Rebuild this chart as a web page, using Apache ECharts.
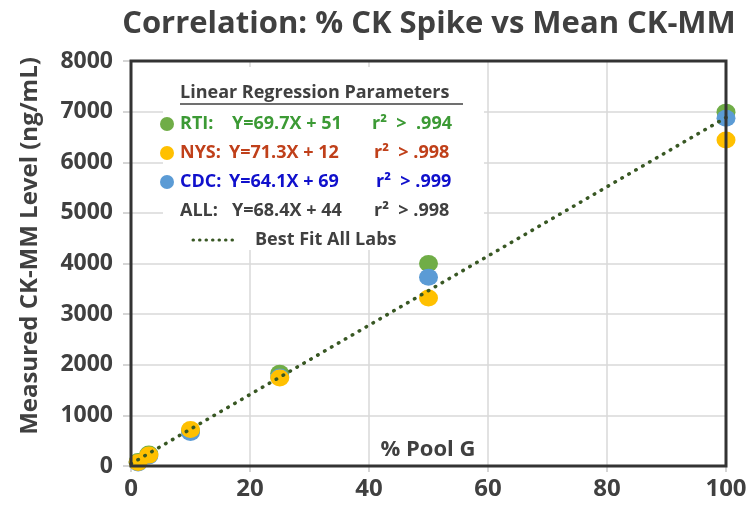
<!DOCTYPE html>
<html>
<head>
<meta charset="utf-8">
<script src="https://cdn.jsdelivr.net/npm/echarts@6/dist/echarts.min.js"></script>
<style>
html,body{margin:0;padding:0;background:#fff;}
#c{width:747px;height:509px;}
</style>
</head>
<body>
<div id="c"></div>
<script>
// ---- data ----
const xTicks = [0, 20, 40, 60, 80, 100];
const yTicks = [0, 1000, 2000, 3000, 4000, 5000, 6000, 7000, 8000];
const rtiData = [[1.2, 90], [3, 235], [10, 700], [25, 1830], [50, 4000], [100, 6990]];
const cdcData = [[1.2, 60], [3, 200], [10, 660], [25, 1760], [50, 3730], [100, 6870]];
const nysData = [[1.2, 70], [3, 215], [10, 720], [25, 1740], [50, 3320], [100, 6440]];
const fitSlope = 68.4;
const fitIntercept = 44;
const fitX = [0, 100];
const fitData = fitX.map(x => [x, fitSlope * x + fitIntercept]);

const FONT = '"Open Sans"';
const chart = echarts.init(document.getElementById('c'), null, {renderer: 'canvas'});

const rowText = (x, y, text, color) => ({
  type: 'text', x: x, y: y, z: 50,
  style: {text: text, fill: color, font: 'bold 18px ' + FONT, textVerticalAlign: 'middle', verticalAlign: 'middle'}
});
const dot = (x, y, color) => ({type: 'circle', z: 50, shape: {cx: x, cy: y, r: 7}, style: {fill: color}});

const option = {
  animation: false,
  backgroundColor: '#fff',
  title: {
    text: 'Correlation: % CK Spike vs Mean CK-MM',
    left: 424, top: 4, textAlign: 'center',
    textStyle: {fontFamily: 'Open Sans', fontWeight: 'bold', fontSize: 31, color: '#404040'}
  },
  grid: {left: 131, right: 21, top: 61, bottom: 43, show: false,
    containLabel: false, outerBoundsMode: 'none'},
  xAxis: {
    type: 'value', min: 0, max: 100, interval: 20,
    axisLine: {show: false},
    axisTick: {show: true, length: 6, lineStyle: {color: '#c8c8c8', width: 1.5}},
    axisLabel: {margin: 11, fontFamily: 'Open Sans', fontWeight: 'bold', fontSize: 24, color: '#404040',
      formatter: v => String(v)},
    splitLine: {show: true, showMinLine: false, showMaxLine: false, lineStyle: {color: '#d9d9d9', width: 1.5}}
  },
  yAxis: {
    type: 'value', min: 0, max: 8000, interval: 1000,
    axisLine: {show: false},
    axisTick: {show: true, length: 8, lineStyle: {color: '#c8c8c8', width: 1.5}},
    axisLabel: {margin: 18, fontFamily: 'Open Sans', fontWeight: 'bold', fontSize: 23, color: '#404040',
      formatter: v => String(v)},
    splitLine: {show: true, showMinLine: false, showMaxLine: false, lineStyle: {color: '#d9d9d9', width: 1.5}}
  },
  series: [
    {name: 'RTI', type: 'scatter', data: rtiData, symbol: 'circle', symbolSize: [19, 17], itemStyle: {color: '#70ad47', opacity: 1}, z: 2},
    {name: 'CDC', type: 'scatter', data: cdcData, symbol: 'circle', symbolSize: [19, 17], itemStyle: {color: '#5b9bd5', opacity: 1}, z: 3},
    {name: 'NYS', type: 'scatter', data: nysData, symbol: 'circle', symbolSize: [19, 17], itemStyle: {color: '#ffc000', opacity: 1}, z: 4},
    {name: 'Best Fit All Labs', type: 'line', data: fitData, showSymbol: false, z: 5,
      lineStyle: {color: '#385723', width: 3.5, type: [0.5, 7.5], cap: 'round'}}
  ],
  graphic: [
    {type: 'rect', z: 1, shape: {x: 163, y: 67, width: 321, height: 183}, style: {fill: '#fff'}},
    {type: 'rect', z: 100, shape: {x: 131, y: 61, width: 595, height: 405},
      style: {fill: 'none', stroke: '#333', lineWidth: 3}},
    {type: 'text', x: 30, y: 246, z: 50, rotation: Math.PI / 2,
      style: {text: 'Measured CK-MM Level (ng/mL)', fill: '#404040', font: 'bold 24px ' + FONT, align: 'center', verticalAlign: 'middle', textAlign: 'center', textVerticalAlign: 'middle'}},
    {type: 'text', x: 428, y: 450, z: 50,
      style: {text: '% Pool G', fill: '#404040', font: 'bold 22px ' + FONT, align: 'center', verticalAlign: 'middle', textAlign: 'center', textVerticalAlign: 'middle'}},
    {type: 'text', x: 180, y: 93, z: 50,
      style: {text: 'Linear Regression Parameters', fill: '#404040', font: 'bold 18px ' + FONT, verticalAlign: 'middle', textVerticalAlign: 'middle'}},
    {type: 'line', z: 50, shape: {x1: 180, y1: 104, x2: 463, y2: 104}, style: {stroke: '#404040', lineWidth: 1.5}},
    dot(167, 124, '#70ad47'),
    rowText(180, 124, 'RTI:', '#3c9a35'),
    rowText(232, 124, 'Y=69.7X + 51', '#3c9a35'),
    rowText(372, 124, 'r²  >  .994', '#3c9a35'),
    dot(167, 153, '#ffc000'),
    rowText(180, 153, 'NYS:', '#c0401a'),
    rowText(229, 153, 'Y=71.3X + 12', '#c0401a'),
    rowText(374, 153, 'r²  > .998', '#c0401a'),
    dot(167, 182, '#5b9bd5'),
    rowText(180, 182, 'CDC:', '#1010cc'),
    rowText(229, 182, 'Y=64.1X + 69', '#1010cc'),
    rowText(376, 182, 'r²  > .999', '#1010cc'),
    rowText(180, 211, 'ALL:', '#404040'),
    rowText(232, 211, 'Y=68.4X + 44', '#404040'),
    rowText(374, 211, 'r²  > .998', '#404040'),
    {type: 'line', z: 50, shape: {x1: 193, y1: 240, x2: 238, y2: 240}, style: {stroke: '#385723', lineWidth: 3, lineDash: [0.5, 6], lineCap: 'round'}},
    rowText(255, 240, 'Best Fit All Labs', '#404040')
  ]
};
chart.setOption(option);
</script>
</body>
</html>
